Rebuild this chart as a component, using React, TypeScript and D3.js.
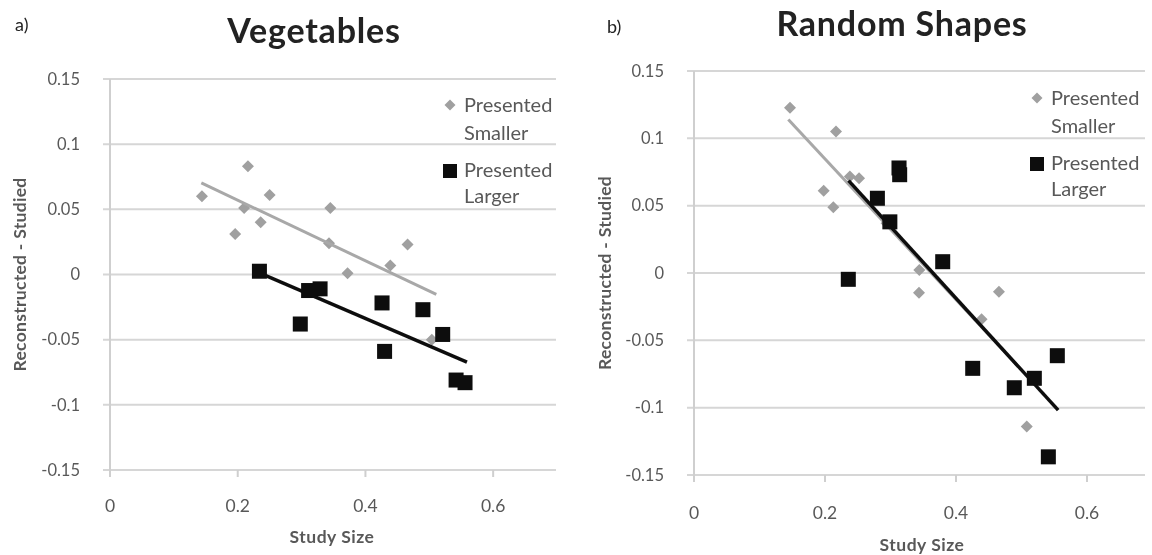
import React from "react";
import * as d3 from "d3";

// ---- data ----
const yTicks = [-0.15, -0.1, -0.05, 0, 0.05, 0.1, 0.15];
const yTickLabels = ["-0.15", "-0.1", "-0.05", "0", "0.05", "0.1", "0.15"];
const xTicks = [0, 0.2, 0.4, 0.6];
const xTickLabels = ["0", "0.2", "0.4", "0.6"];
const legendLines = [["Presented", "Smaller"], ["Presented", "Larger"]];

const vegSmaller: [number, number][] = [
  [0.144, 0.06], [0.216, 0.083], [0.21, 0.051], [0.196, 0.031], [0.236, 0.04],
  [0.25, 0.061], [0.345, 0.051], [0.343, 0.024], [0.372, 0.001], [0.439, 0.007],
  [0.466, 0.023], [0.504, -0.05],
];
const vegLarger: [number, number][] = [
  [0.234, 0.0025], [0.311, -0.0123], [0.329, -0.011], [0.298, -0.038], [0.426, -0.0218],
  [0.43, -0.059], [0.49, -0.027], [0.521, -0.046], [0.542, -0.081], [0.556, -0.083],
];
const vegSmallerTrend: [number, number][] = [[0.143, 0.0703], [0.511, -0.0153]];
const vegLargerTrend: [number, number][] = [[0.234, 0.0013], [0.559, -0.0673]];

const shapesSmaller: [number, number][] = [
  [0.1466, 0.1228], [0.2168, 0.105], [0.238, 0.0716], [0.252, 0.0703], [0.198, 0.061],
  [0.2127, 0.0488], [0.294, 0.037], [0.344, 0.0022], [0.3435, -0.0146], [0.4656, -0.0139],
  [0.439, -0.0344], [0.508, -0.114],
];
const shapesLarger: [number, number][] = [
  [0.313, 0.078], [0.314, 0.073], [0.28, 0.0555], [0.299, 0.038], [0.2356, -0.0047],
  [0.3797, 0.0084], [0.4255, -0.0708], [0.489, -0.0852], [0.5196, -0.0782], [0.5547, -0.0614],
  [0.541, -0.1365],
];
const shapesSmallerTrend: [number, number][] = [[0.144, 0.114], [0.5, -0.072]];
const shapesLargerTrend: [number, number][] = [[0.236, 0.0686], [0.556, -0.1018]];

const FONT = "Lato, 'Open Sans', sans-serif";
const GRAY = "#a0a0a0";
const LINEGRAY = "#a8a8a8";
const BLACK = "#0d0d0d";
const TXT = "#595959";

type PanelProps = {
  letter: string; letterX: number; letterY: number;
  title: string; titleX: number; titleY: number;
  x0: number; xEnd: number; gridEnd: number; yTop: number; yBottom: number;
  smaller: [number, number][]; larger: [number, number][];
  smallerTrend: [number, number][]; largerTrend: [number, number][];
  ytitleX: number; xlabelY: number; xtitleX: number; xtitleY: number;
  legendX: number; legendY: number;
};

function Panel(p: PanelProps) {
  const x = d3.scaleLinear().domain([0, 0.7]).range([p.x0, p.xEnd]);
  const y = d3.scaleLinear().domain([-0.15, 0.15]).range([p.yBottom, p.yTop]);
  const line = d3.line<[number, number]>().x((d) => x(d[0])).y((d) => y(d[1]));
  const sq = 15;
  const dm = 6;
  const diamond = (cx: number, cy: number, r: number) =>
    `M${cx},${cy - r}L${cx + r},${cy}L${cx},${cy + r}L${cx - r},${cy}Z`;
  const midY = (p.yTop + p.yBottom) / 2;
  const lx = p.legendX + 14;
  return (
    <g>
      <text x={p.letterX} y={p.letterY} fontFamily={FONT} fontSize={18} fill="#222">{p.letter}</text>
      <text x={p.titleX} y={p.titleY} textAnchor="middle" fontFamily={FONT} fontWeight="bold" fontSize={34} letterSpacing={0.8} fill="#222">{p.title}</text>
      {yTicks.map((t, i) => (
        <g key={"g" + i}>
          <line x1={p.x0 - 7} x2={p.gridEnd} y1={y(t)} y2={y(t)} stroke="#d6d6d6" strokeWidth={2} />
          <text x={p.x0 - 30} y={y(t)} dy="0.35em" textAnchor="end" fontFamily={FONT} fontSize={16.5} fill={TXT}>{yTickLabels[i]}</text>
        </g>
      ))}
      <line x1={p.x0} x2={p.x0} y1={p.yTop} y2={p.yBottom + 7} stroke="#cfcfcf" strokeWidth={2} />
      {xTicks.map((t, i) => (
        <g key={"x" + i}>
          <line x1={x(t)} x2={x(t)} y1={p.yBottom} y2={p.yBottom + 7} stroke="#cfcfcf" strokeWidth={2} />
          <text x={x(t)} y={p.xlabelY} dy="0.35em" textAnchor="middle" fontFamily={FONT} fontSize={17.5} fill={TXT}>{xTickLabels[i]}</text>
        </g>
      ))}
      <text x={p.xtitleX} y={p.xtitleY} textAnchor="middle" fontFamily={FONT} fontWeight="bold" fontSize={17.5} letterSpacing={0.5} fill={TXT}>Study Size</text>
      <text transform={`translate(${p.ytitleX},${midY}) rotate(-90)`} textAnchor="middle" fontFamily={FONT} fontWeight="bold" fontSize={17.5} letterSpacing={0.3} fill={TXT}>Reconstructed - Studied</text>

      {p.smaller.map((d, i) => (
        <path key={"s" + i} d={diamond(x(d[0]), y(d[1]), dm)} fill={GRAY} />
      ))}
      <path d={line(p.smallerTrend) || ""} stroke={LINEGRAY} strokeWidth={3} fill="none" />
      <path d={line(p.largerTrend) || ""} stroke={BLACK} strokeWidth={3.5} fill="none" />
      {p.larger.map((d, i) => (
        <rect key={"l" + i} x={x(d[0]) - sq / 2} y={y(d[1]) - sq / 2} width={sq} height={sq} fill={BLACK} />
      ))}

      <path d={diamond(p.legendX, p.legendY, 5.5)} fill={GRAY} />
      <text x={lx} y={p.legendY + 7} fontFamily={FONT} fontSize={20} fill={TXT}>{legendLines[0][0]}</text>
      <text x={lx} y={p.legendY + 35} fontFamily={FONT} fontSize={20} fill={TXT}>{legendLines[0][1]}</text>
      <rect x={p.legendX - 7} y={p.legendY + 66 - 7} width={14} height={14} fill={BLACK} />
      <text x={lx} y={p.legendY + 72} fontFamily={FONT} fontSize={20} fill={TXT}>{legendLines[1][0]}</text>
      <text x={lx} y={p.legendY + 98} fontFamily={FONT} fontSize={20} fill={TXT}>{legendLines[1][1]}</text>
    </g>
  );
}

export default function App() {
  return (
    <svg width={1152} height={555} style={{ position: "absolute", left: 0, top: 0, background: "#fff" }}>
      <defs>
        <filter id="soft" x="0" y="0" width="100%" height="100%">
          <feGaussianBlur stdDeviation={0.5} />
        </filter>
      </defs>
      <rect width={1152} height={555} fill="#fff" />
      <g filter="url(#soft)">
        <Panel letter="a)" letterX={15} letterY={31} title="Vegetables" titleX={314} titleY={43}
          x0={110} xEnd={557} gridEnd={556} yTop={79} yBottom={470}
          smaller={vegSmaller} larger={vegLarger} smallerTrend={vegSmallerTrend} largerTrend={vegLargerTrend}
          ytitleX={26} xlabelY={506} xtitleX={332} xtitleY={543} legendX={450} legendY={105} />
        <Panel letter="b)" letterX={607} letterY={33} title="Random Shapes" titleX={902} titleY={36}
          x0={694} xEnd={1152.5} gridEnd={1145} yTop={71} yBottom={475}
          smaller={shapesSmaller} larger={shapesLarger} smallerTrend={shapesSmallerTrend} largerTrend={shapesLargerTrend}
          ytitleX={611} xlabelY={513} xtitleX={922} xtitleY={551} legendX={1037} legendY={98} />
      </g>
    </svg>
  );
}
